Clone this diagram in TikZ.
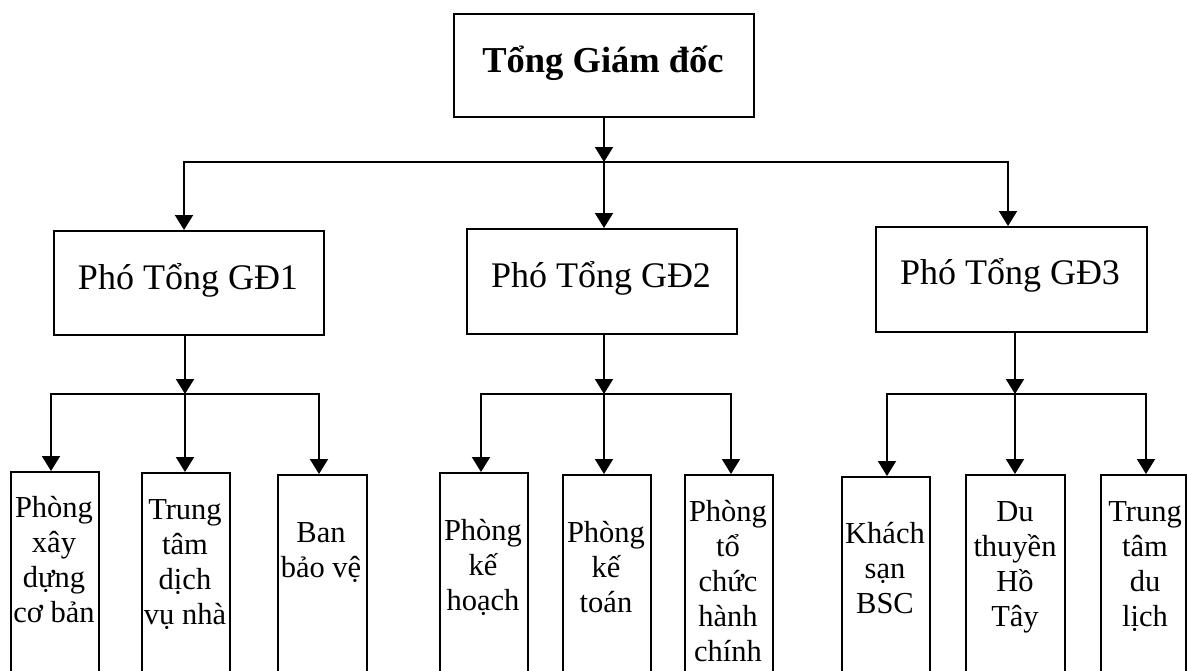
\documentclass[tikz,border=0pt]{standalone}
\usepackage{fontspec}
\setmainfont{Liberation Serif}
\usetikzlibrary{arrows.meta}
\begin{document}
\begin{tikzpicture}[x=1pt,y=-1pt,
 box/.style={draw, line width=1.6pt, rectangle, inner sep=0pt, anchor=north west},
 link/.style={line width=2pt, line cap=rect},
 arr/.style={line width=2pt, -{Triangle[width=18pt,length=15pt]}},
 big/.style={font=\bfseries\fontsize{36.5}{43}\selectfont, inner sep=0pt, anchor=base},
 mid/.style={font=\fontsize{36}{43}\selectfont, inner sep=0pt, anchor=base},
 sm/.style={font=\fontsize{30.5}{35}\selectfont, align=center, inner sep=0pt, anchor=north},
 lowbox/.style={box, minimum height=240pt}
]
\useasboundingbox (0,0) rectangle (1187,670);
\clip (0,0) rectangle (1187,670);

% boxes
\node[box, minimum width=300pt, minimum height=103pt] (top) at (453,13) {};
\node[box, minimum width=270pt, minimum height=104pt] (gd1) at (53,230) {};
\node[box, minimum width=270pt, minimum height=105pt] (gd2) at (466,228) {};
\node[box, minimum width=271pt, minimum height=105pt] (gd3) at (875,226) {};

\node[lowbox, minimum width=88pt] (b1) at (10,471) {};
\node[lowbox, minimum width=88pt] (b2) at (141,472) {};
\node[lowbox, minimum width=89pt] (b3) at (277,474) {};
\node[lowbox, minimum width=88pt] (b4) at (439,472) {};
\node[lowbox, minimum width=88pt] (b5) at (562,474) {};
\node[lowbox, minimum width=88pt] (b6) at (684,474) {};
\node[lowbox, minimum width=88pt] (b7) at (841,476) {};
\node[lowbox, minimum width=99pt] (b8) at (965,474) {};
\node[lowbox, minimum width=85pt] (b9) at (1100,474) {};

% texts
\node[big] (ttop) at (603,72) {Tổng Giám đốc};
\node[mid] (t1) at (188,289) {Phó Tổng GĐ1};
\node[mid] (t2) at (601,287) {Phó Tổng GĐ2};
\node[mid] (t3) at (1010,284) {Phó Tổng GĐ3};

\node[sm] (tb1) at (54,487) {\rule{0pt}{30pt}Phòng\\xây\\dựng\\cơ bản};
\node[sm] (tb2) at (185,489) {\rule{0pt}{30pt}Trung\\tâm\\dịch\\vụ nhà};
\node[sm] (tb3) at (321,512) {\rule{0pt}{30pt}Ban\\bảo vệ};
\node[sm] (tb4) at (483,510) {\rule{0pt}{30pt}Phòng\\kế\\hoạch};
\node[sm] (tb5) at (606,512) {\rule{0pt}{30pt}Phòng\\kế\\toán};
\node[sm] (tb6) at (728,491) {\rule{0pt}{30pt}Phòng\\tổ\\chức\\hành\\chính};
\node[sm] (tb7) at (885,513) {\rule{0pt}{30pt}Khách\\sạn\\BSC};
\node[sm] (tb8) at (1015,491) {\rule{0pt}{30pt}Du\\thuyền\\Hồ\\Tây};
\node[sm] (tb9) at (1145,491) {\rule{0pt}{30pt}Trung\\tâm\\du\\lịch};

% level 1 connectors
\coordinate (j0) at (604,162);
\coordinate (jL) at (184,162);
\coordinate (jR) at (1008,162);
\draw[arr] (j0 |- top.south) -- (j0);
\draw[link] (jL) -- (jR);
\draw[arr] (j0) -- (j0 |- gd2.north);
\draw[arr] (jL) -- (jL |- gd1.north);
\draw[arr] (jR) -- (jR |- gd3.north);

% level 2 connectors: GD1
\coordinate (k1) at (185,394);
\coordinate (k1a) at (51,394);
\coordinate (k1b) at (319,394);
\draw[arr] (k1 |- gd1.south) -- (k1);
\draw[link] (k1a) -- (k1b);
\draw[arr] (k1a) -- (k1a |- b1.north);
\draw[arr] (k1) -- (k1 |- b2.north);
\draw[arr] (k1b) -- (k1b |- b3.north);

% GD2
\coordinate (k2) at (604,394);
\coordinate (k2a) at (481,394);
\coordinate (k2b) at (731,394);
\draw[arr] (k2 |- gd2.south) -- (k2);
\draw[link] (k2a) -- (k2b);
\draw[arr] (k2a) -- (k2a |- b4.north);
\draw[arr] (k2) -- (k2 |- b5.north);
\draw[arr] (k2b) -- (k2b |- b6.north);

% GD3
\coordinate (k3) at (1015,394);
\coordinate (k3a) at (887,394);
\coordinate (k3b) at (1146,394);
\draw[arr] (k3 |- gd3.south) -- (k3);
\draw[link] (k3a) -- (k3b);
\draw[arr] (k3a) -- (k3a |- b7.north);
\draw[arr] (k3) -- (k3 |- b8.north);
\draw[arr] (k3b) -- (k3b |- b9.north);
\end{tikzpicture}
\end{document}
